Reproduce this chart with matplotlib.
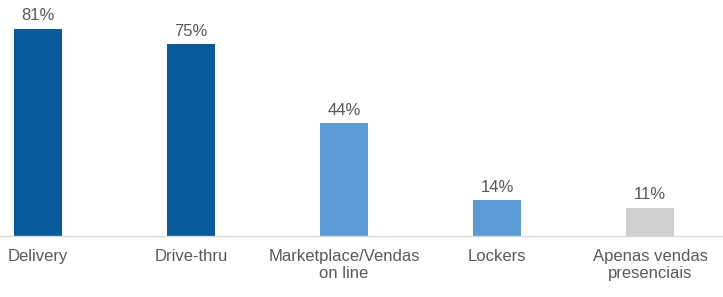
import matplotlib
matplotlib.use("Agg")
import matplotlib.pyplot as plt

categories = ["Delivery", "Drive-thru", "Marketplace/Vendas\non line", "Lockers", "Apenas vendas\npresenciais"]
values = [81, 75, 44, 14, 11]
labels = ["81%", "75%", "44%", "14%", "11%"]
colors = ["#075A9B", "#075A9B", "#5B9BD5", "#5B9BD5", "#D0CECE"]

plt.rcParams['font.family'] = ['Liberation Sans', 'DejaVu Sans']

fig = plt.figure(figsize=(7.23, 2.97), dpi=100)
ax = fig.add_axes([0, 0.2054, 1, 0.7946])
x = list(range(len(categories)))
bars = ax.bar(x, values, width=0.314, color=colors)
for xi, v, lab in zip(x, values, labels):
    ax.annotate(lab, (xi, v), xytext=(0, 4), textcoords="offset points",
                ha="center", va="bottom", fontsize=12, color="#595959")
ax.set_xlim(-0.248, 4.477)
ax.set_ylim(0, 92.3)
ax.set_xticks(x)
ax.set_xticklabels(categories, fontsize=12, color="#595959", linespacing=1.18)
ax.tick_params(axis="x", length=0, pad=9.5)
ax.set_yticks([])
for s in ["top", "left", "right"]:
    ax.spines[s].set_visible(False)
ax.spines["bottom"].set_color("#D9D9D9")
ax.spines["bottom"].set_linewidth(1.0)
fig.savefig("out.png", dpi=100)
